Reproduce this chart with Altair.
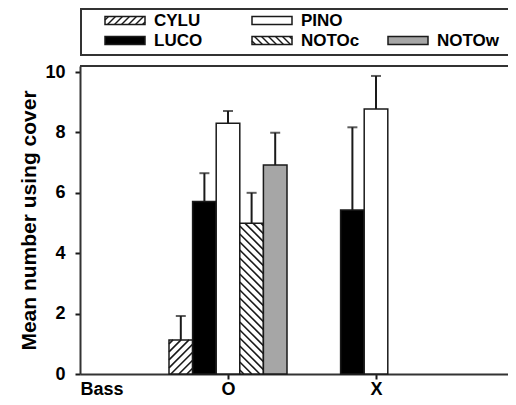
import altair as alt
import pandas as pd

# ---------------- data ----------------
species = ["CYLU", "LUCO", "PINO", "NOTOc", "NOTOw"]
groups = ["O", "X"]
means_O = [1.13, 5.71, 8.30, 4.99, 6.92]
errs_O = [0.79, 0.94, 0.41, 1.01, 1.07]
means_X = [None, 5.43, 8.78, None, None]
errs_X = [None, 2.74, 1.09, None, None]
y_ticks = [0, 2, 4, 6, 8, 10]

# ---------------- styles / layout ----------------
fills = ["white", "black", "white", "white", "#a6a6a6"]
hatch_kind = {"CYLU": "/", "NOTOc": "\\"}
FONT = "Liberation Sans"
INK = "#1a1a1a"
X_MAX = 3
X_RANGE = 444
Y_MAX = 10.2
W, H = 428, 308
PXX = X_RANGE / X_MAX
PXY = H / Y_MAX
BAR_PX = 23.6
BW = BAR_PX / PXX

rows = []
for gi, (g, ms, es) in enumerate(zip(groups, [means_O, means_X], [errs_O, errs_X]), start=1):
    for si, (s, m, e) in enumerate(zip(species, ms, es)):
        if m is None:
            continue
        x0 = gi + (si - len(species) / 2) * BW
        rows.append(dict(group=g, species=s, mean=m, err=e, top=m + e,
                         x0=x0, x1=x0 + BW, xc=x0 + BW / 2, zero=0))
df = pd.DataFrame(rows)


def hatch_local(w, h, kind, step):
    """segments (x, y, x2, y2) in a local y-up box of size w x h"""
    segs = []
    if kind == "/":
        k = -h + step / 2
        while k < w:
            xs, xe = max(0, k), min(w, h + k)
            if xe > xs:
                segs.append((xs, xs - k, xe, xe - k))
            k += step
    else:
        k = step / 2
        while k < w + h:
            xs, xe = max(0, k - h), min(w, k)
            if xe > xs:
                segs.append((xs, k - xs, xe, k - xe))
            k += step
    return segs


hrows = []
for r in rows:
    kind = hatch_kind.get(r["species"])
    if not kind:
        continue
    for (a, b, c, d) in hatch_local(BAR_PX, r["mean"] * PXY, kind, 8):
        hrows.append(dict(x0=r["x0"] + a / PXX, mean=b / PXY,
                          x1=r["x0"] + c / PXX, zero=d / PXY))
hdf = pd.DataFrame(hrows)

# legend layout (pixels, relative to plot origin)
leg_cell = {"CYLU": (0, 0), "PINO": (1, 0), "LUCO": (0, 1), "NOTOc": (1, 1), "NOTOw": (2, 1)}
col_x = [25, 172, 308]
row_y = [-45.5, -25.5]
SW, SH = 40, 8
lrows, lhrows = [], []
for s, f in zip(species, fills):
    c, r = leg_cell[s]
    lx, ly = col_x[c], row_y[r]
    lrows.append(dict(species=s, lx=lx, lx2=lx + SW, ly=ly - SH / 2, ly2=ly + SH / 2,
                      tx=lx + SW + 9, ty=ly))
    kind = hatch_kind.get(s)
    if kind:
        for (a, b, cc, d) in hatch_local(SW, SH, kind, 7):
            lhrows.append(dict(lx=lx + a, ly=ly + SH / 2 - b, lx2=lx + cc, ly2=ly + SH / 2 - d))
ldf = pd.DataFrame(lrows)
lhdf = pd.DataFrame(lhrows)

# ---------------- chart ----------------
xscale = alt.Scale(domain=[0, X_MAX], range=[0, X_RANGE], nice=False, zero=False)
yscale = alt.Scale(domain=[0, Y_MAX], nice=False)
label_expr = " : ".join(
    [f"datum.value == {i} ? '{g}'" for i, g in enumerate(groups[:-1], start=1)] + [f"'{groups[-1]}'"]
)

xaxis = alt.Axis(values=list(range(1, len(groups) + 1)), labelExpr=label_expr, grid=False,
                 tickSize=5, tickWidth=2, tickColor=INK, domainWidth=2, domainColor="#333",
                 labelFontSize=18, labelFontWeight="bold", labelPadding=1, labelColor="black",
                 labelFont=FONT, titleFont=FONT,
                 title="Bass", titleFontSize=18, titleFontWeight="bold", titleAnchor="start",
                 titleAlign="left", titleX=0, titleY=6, titleBaseline="top", titleColor="black")
yaxis = alt.Axis(values=y_ticks, grid=False, tickSize=5, tickWidth=2, tickColor=INK,
                 domainWidth=2, domainColor="#333", labelFontSize=18, labelFontWeight="bold",
                 labelPadding=10, labelColor="black", labelFont=FONT, titleFont=FONT,
                 title="Mean number using cover", titleFontSize=21, titleFontWeight="bold",
                 titlePadding=5, titleColor="black")

base = alt.Chart(df)
X = alt.X("x0:Q", scale=xscale, axis=xaxis)
Y = alt.Y("mean:Q", scale=yscale, axis=yaxis)

bars = base.mark_rect(stroke=INK, strokeWidth=1.5).encode(
    x=X, x2="x1:Q", y=Y, y2="zero:Q",
    fill=alt.Fill("species:N", scale=alt.Scale(domain=species, range=fills), legend=None),
)

hatch = alt.Chart(hdf).mark_rule(color=INK, strokeWidth=1.6).encode(
    x=X, x2="x1:Q", y=Y, y2="zero:Q",
)

err_line = base.mark_rule(color=INK, strokeWidth=2).encode(
    x=alt.X("xc:Q", scale=xscale, axis=xaxis, title="Bass"),
    y=Y, y2="top:Q",
)
err_cap = base.mark_tick(color=INK, orient="horizontal", size=10, thickness=2).encode(
    x=alt.X("xc:Q", scale=xscale, axis=xaxis, title="Bass"),
    y=alt.Y("top:Q", scale=yscale, axis=yaxis, title="Mean number using cover"),
)

top_rule = base.mark_rule(color="#333", strokeWidth=2).encode(
    x=alt.value(0), x2=alt.value(X_RANGE), y=alt.value(0)
)

leg_box = base.mark_rect(fill="white", stroke="#333", strokeWidth=2).encode(
    x=alt.value(1), x2=alt.value(460), y=alt.value(-57), y2=alt.value(-11)
)
leg_sw = alt.Chart(ldf).mark_rect(stroke=INK, strokeWidth=1.5).encode(
    x=alt.X("lx:Q", scale=None), x2="lx2:Q",
    y=alt.Y("ly:Q", scale=None), y2="ly2:Q",
    fill=alt.Fill("species:N", scale=alt.Scale(domain=species, range=fills), legend=None),
)
leg_hatch = alt.Chart(lhdf).mark_rule(color=INK, strokeWidth=1.5).encode(
    x=alt.X("lx:Q", scale=None), x2="lx2:Q",
    y=alt.Y("ly:Q", scale=None), y2="ly2:Q",
)
leg_text = alt.Chart(ldf).mark_text(align="left", baseline="middle", font=FONT, fontSize=17,
                                    fontWeight="bold", color="black").encode(
    x=alt.X("tx:Q", scale=None),
    y=alt.Y("ty:Q", scale=None),
    text="species:N",
)

chart = alt.layer(
    bars, hatch, err_line, err_cap, top_rule, leg_box, leg_sw, leg_hatch, leg_text
).properties(
    width=W, height=H,
    background="white",
    autosize=alt.AutoSizeParams(type="none"),
    padding={"left": 72, "top": 58, "right": 0, "bottom": 23},
).configure_view(stroke=None)

chart.save("out.html", embed_options={"renderer": "svg", "actions": False})
